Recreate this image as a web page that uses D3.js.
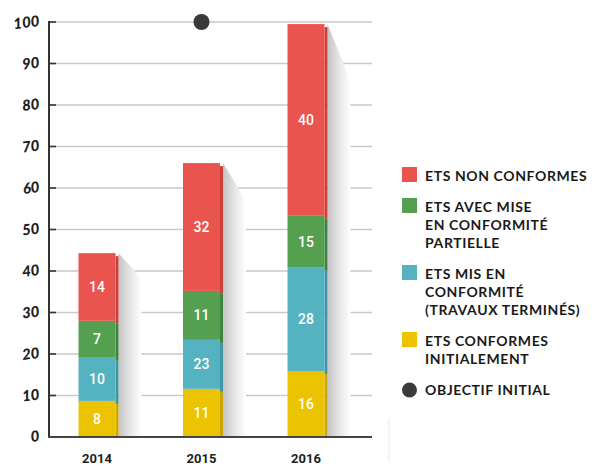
<!DOCTYPE html>
<html>
<head>
<meta charset="utf-8">
<script src="https://cdnjs.cloudflare.com/ajax/libs/d3/7.8.5/d3.min.js"></script>
<style>
  body { margin: 0; background: #fff; }
  svg { display: block; }
  .tick-label { font-family: Lato, sans-serif; font-weight: 900; font-style: italic; font-size: 15px; fill: #1e1e1e; }
  .year { font-family: Roboto, sans-serif; font-weight: 700; font-size: 13px; fill: #1e1e1e; }
  .val { font-family: Roboto, sans-serif; font-weight: 500; font-size: 14px; fill: #fff; }
  .leg { font-family: Lato, sans-serif; font-weight: 700; font-size: 14px; fill: #1a1a1a; letter-spacing: 0.6px; }
</style>
</head>
<body>
<div class="chart"></div>
<script>
var svgWidth = 600;
var svgHeight = 467;

// data
var years = ["2014", "2015", "2016"];
var series = ["conformes", "mis", "partielle", "non"];
// segment heights as drawn (bottom to top)
var conformes = [8.7, 11.6, 15.9];
var mis = [10.4, 11.8, 24.9];
var partielle = [8.9, 11.8, 12.5];
var nonConformes = [16.3, 30.8, 46.2];
// numbers printed in the segments
var conformesLabels = ["8", "11", "16"];
var misLabels = ["10", "23", "28"];
var partielleLabels = ["7", "11", "15"];
var nonLabels = ["14", "32", "40"];
var objectif = { year: "2015", value: 100 };
var yTicks = [0, 10, 20, 30, 40, 50, 60, 70, 80, 90, 100];

var colors = {
  conformes: "#ebc300",
  mis: "#55b2c0",
  partielle: "#559f51",
  non: "#e9544f"
};
var sideColors = {
  conformes: "#c9a700",
  mis: "#3f97a5",
  partielle: "#3f8340",
  non: "#cf3f3b"
};

var legendItems = [
  { key: "non", lines: ["ETS NON CONFORMES"] },
  { key: "partielle", lines: ["ETS AVEC MISE", "EN CONFORMITÉ", "PARTIELLE"] },
  { key: "mis", lines: ["ETS MIS EN", "CONFORMITÉ", "(TRAVAUX TERMINÉS)"] },
  { key: "conformes", lines: ["ETS CONFORMES", "INITIALEMENT"] },
  { key: "dot", lines: ["OBJECTIF INITIAL"] }
];

var table = years.map(function(y, i) {
  return {
    year: y,
    conformes: conformes[i], mis: mis[i], partielle: partielle[i], non: nonConformes[i],
    labels: { conformes: conformesLabels[i], mis: misLabels[i], partielle: partielleLabels[i], non: nonLabels[i] }
  };
});

var svg = d3.select(".chart")
  .append("svg")
  .attr("width", svgWidth)
  .attr("height", svgHeight);

var axisX = 49, gridRight = 372;

var yScale = d3.scaleLinear().domain([0, 100]).range([437, 22]);
var xScale = d3.scalePoint().domain(years).range([97, 306]);
var faceW = 37, sideW = 3;

var defs = svg.append("defs");
var grad = defs.append("linearGradient").attr("id", "shadow").attr("x1", "0").attr("x2", "1").attr("y1", "0").attr("y2", "0");
grad.append("stop").attr("offset", "0").attr("stop-color", "#c4c4c4");
grad.append("stop").attr("offset", "0.45").attr("stop-color", "#e2e2e2");
grad.append("stop").attr("offset", "1").attr("stop-color", "#ffffff");

// gridlines
svg.append("g").selectAll("line")
  .data(yTicks.filter(function(d) { return d > 0; }))
  .enter().append("line")
  .attr("x1", axisX).attr("x2", gridRight)
  .attr("y1", function(d) { return yScale(d); })
  .attr("y2", function(d) { return yScale(d); })
  .attr("stroke", "#c9c9c9").attr("stroke-width", 1.5);

// tick marks
svg.append("g").selectAll("line")
  .data(yTicks)
  .enter().append("line")
  .attr("x1", axisX).attr("x2", axisX + 7)
  .attr("y1", function(d) { return yScale(d); })
  .attr("y2", function(d) { return yScale(d); })
  .attr("stroke", "#333").attr("stroke-width", 1.6);

// tick labels
svg.append("g").selectAll("text")
  .data(yTicks)
  .enter().append("text")
  .attr("class", "tick-label")
  .attr("text-anchor", "end")
  .attr("transform", function(d) { return "translate(40," + (yScale(d) + 4) + ") rotate(-7)"; })
  .text(function(d) { return d; });

var stack = d3.stack().keys(series)(table);

// shadows
svg.append("g").selectAll("path")
  .data(table)
  .enter().append("path")
  .attr("fill", "url(#shadow)")
  .attr("d", function(d) {
    var total = d.conformes + d.mis + d.partielle + d.non;
    var x0 = xScale(d.year) - faceW / 2 + faceW + sideW;
    var top = yScale(total);
    var drop = (yScale(0) - top) * 0.137;
    return "M" + x0 + "," + top + "L" + (x0 + 23) + "," + (top + drop) +
      "L" + (x0 + 23) + "," + yScale(0) + "L" + x0 + "," + yScale(0) + "Z";
  });

var layers = svg.append("g").selectAll("g")
  .data(stack)
  .enter().append("g");

// side stripe
layers.selectAll("rect.side")
  .data(function(s) { return s.map(function(p) { return { key: s.key, p: p }; }); })
  .enter().append("rect")
  .attr("class", "side")
  .attr("x", function(d) { return xScale(d.p.data.year) + faceW / 2; })
  .attr("width", sideW)
  .attr("y", function(d) { return yScale(d.p[1]) + 3; })
  .attr("height", function(d) { return Math.min(yScale(d.p[0]) + 3, yScale(0)) - yScale(d.p[1]) - 3; })
  .attr("fill", function(d) { return sideColors[d.key]; });

// bar faces
layers.selectAll("rect.face")
  .data(function(s) { return s.map(function(p) { return { key: s.key, p: p }; }); })
  .enter().append("rect")
  .attr("class", "face")
  .attr("x", function(d) { return xScale(d.p.data.year) - faceW / 2; })
  .attr("width", faceW)
  .attr("y", function(d) { return yScale(d.p[1]); })
  .attr("height", function(d) { return yScale(d.p[0]) - yScale(d.p[1]); })
  .attr("fill", function(d) { return colors[d.key]; });

// values
layers.selectAll("text")
  .data(function(s) { return s.map(function(p) { return { key: s.key, p: p }; }); })
  .enter().append("text")
  .attr("class", "val")
  .attr("text-anchor", "middle")
  .attr("x", function(d) { return xScale(d.p.data.year); })
  .attr("y", function(d) { return (yScale(d.p[0]) + yScale(d.p[1])) / 2 + 5; })
  .text(function(d) { return d.p.data.labels[d.key]; });

// axes lines
svg.append("line")
  .attr("x1", axisX).attr("x2", axisX)
  .attr("y1", yScale(100) - 1).attr("y2", yScale(0) + 1)
  .attr("stroke", "#333").attr("stroke-width", 2);
svg.append("line")
  .attr("x1", axisX - 1).attr("x2", gridRight)
  .attr("y1", yScale(0)).attr("y2", yScale(0))
  .attr("stroke", "#444").attr("stroke-width", 2);

// year labels
svg.append("g").selectAll("text")
  .data(years)
  .enter().append("text")
  .attr("class", "year")
  .attr("text-anchor", "middle")
  .attr("x", function(d) { return xScale(d); })
  .attr("y", 463)
  .text(function(d) { return d; });

// objective dot
svg.append("circle")
  .attr("cx", xScale(objectif.year))
  .attr("cy", yScale(objectif.value))
  .attr("r", 8)
  .attr("fill", "#3a3a3a");

// faint divider
svg.append("line")
  .attr("x1", 389).attr("x2", 389).attr("y1", 418).attr("y2", 462)
  .attr("stroke", "#efe9d6").attr("stroke-width", 1);

// legend
var legend = svg.append("g");
var lineH = 18, gap = 13, yPos = 176;
legendItems.forEach(function(item) {
  var g = legend.append("g");
  if (item.key === "dot") {
    g.append("circle").attr("cx", 409.5).attr("cy", yPos).attr("r", 7.5).attr("fill", "#3a3a3a");
  } else {
    g.append("rect").attr("x", 402).attr("y", yPos - 9).attr("width", 15).attr("height", 15)
      .attr("fill", colors[item.key]);
  }
  item.lines.forEach(function(l, j) {
    g.append("text").attr("class", "leg")
      .attr("x", 425).attr("y", yPos + j * lineH + 5)
      .text(l);
  });
  yPos += item.lines.length * lineH + gap;
});
</script>
</body>
</html>
